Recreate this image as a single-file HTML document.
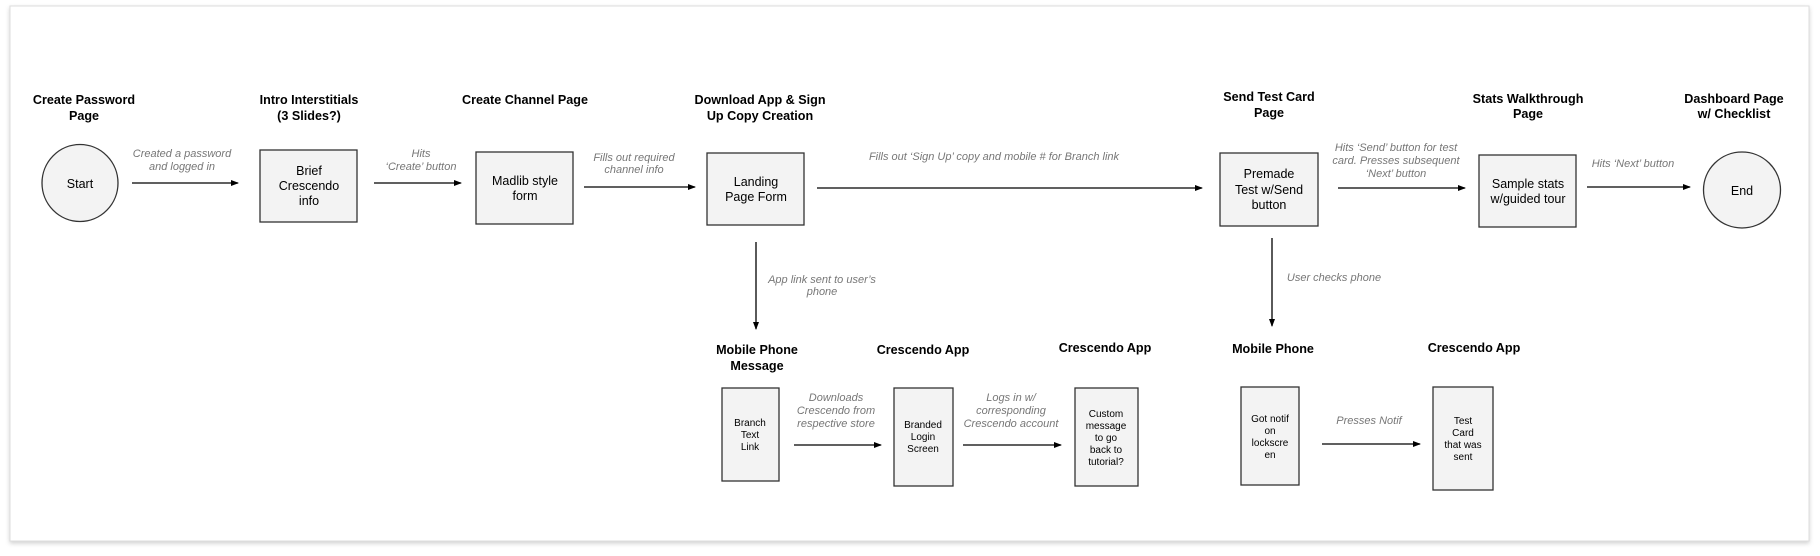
<!DOCTYPE html>
<html><head><meta charset="utf-8"><style>
html,body{margin:0;padding:0;background:#fff;width:1820px;height:556px;overflow:hidden}
svg{display:block}
.t{font:bold 12.6px "Liberation Sans",sans-serif;fill:#000;text-anchor:middle}
.b{font:12.5px "Liberation Sans",sans-serif;fill:#000;text-anchor:middle}
.s{font:10px "Liberation Sans",sans-serif;fill:#000;text-anchor:middle}
.l{font:italic 11px "Liberation Sans",sans-serif;fill:#777;text-anchor:middle}
.bx{fill:#f3f3f3;stroke:#333;stroke-width:1.3}
.ar{stroke:#000;stroke-width:1.3;fill:none;marker-end:url(#a)}
</style></head><body>
<svg width="1820" height="556" viewBox="0 0 1820 556">
<defs>
<marker id="a" markerWidth="8" markerHeight="6" refX="7" refY="3" orient="auto" markerUnits="userSpaceOnUse"><path d="M0,0 L8,3 L0,6 z" fill="#000"/></marker>
<filter id="sh" x="-2%" y="-5%" width="104%" height="110%"><feDropShadow dx="0" dy="2" stdDeviation="2" flood-color="#000" flood-opacity="0.18"/></filter>
</defs>
<rect x="10" y="6" width="1799" height="535" fill="#fff" stroke="#ddd" stroke-width="1" filter="url(#sh)"/>

<text class="t" x="84" y="104">Create Password</text><text class="t" x="84" y="120">Page</text>
<text class="t" x="309" y="104">Intro Interstitials</text><text class="t" x="309" y="120">(3 Slides?)</text>
<text class="t" x="525" y="104">Create Channel Page</text>
<text class="t" x="760" y="104">Download App &amp; Sign</text><text class="t" x="760" y="120">Up Copy Creation</text>
<text class="t" x="1269" y="101">Send Test Card</text><text class="t" x="1269" y="117">Page</text>
<text class="t" x="1528" y="103">Stats Walkthrough</text><text class="t" x="1528" y="118">Page</text>
<text class="t" x="1734" y="103">Dashboard Page</text><text class="t" x="1734" y="118">w/ Checklist</text>

<ellipse cx="80" cy="183" rx="38" ry="38.5" class="bx"/><text class="b" x="80" y="188">Start</text>
<rect x="260" y="150" width="97" height="72" class="bx"/>
<text class="b" x="309" y="175">Brief</text><text class="b" x="309" y="190">Crescendo</text><text class="b" x="309" y="205">info</text>
<rect x="476" y="152" width="97" height="72" class="bx"/>
<text class="b" x="525" y="185">Madlib style</text><text class="b" x="525" y="200">form</text>
<rect x="707" y="153" width="97" height="72" class="bx"/>
<text class="b" x="756" y="186">Landing</text><text class="b" x="756" y="201">Page Form</text>
<rect x="1220" y="153" width="98" height="73" class="bx"/>
<text class="b" x="1269" y="178">Premade</text><text class="b" x="1269" y="194">Test w/Send</text><text class="b" x="1269" y="209">button</text>
<rect x="1479" y="155" width="97" height="72" class="bx"/>
<text class="b" x="1528" y="188">Sample stats</text><text class="b" x="1528" y="203">w/guided tour</text>
<ellipse cx="1742" cy="190" rx="38.5" ry="38" class="bx"/><text class="b" x="1742" y="195">End</text>

<line x1="132" y1="183" x2="238" y2="183" class="ar"/>
<text class="l" x="182" y="157">Created a password</text><text class="l" x="182" y="170">and logged in</text>
<line x1="374" y1="183" x2="461" y2="183" class="ar"/>
<text class="l" x="421" y="157">Hits</text><text class="l" x="421" y="170">‘Create’ button</text>
<line x1="584" y1="187" x2="695" y2="187" class="ar"/>
<text class="l" x="634" y="161">Fills out required</text><text class="l" x="634" y="173">channel info</text>
<line x1="817" y1="188" x2="1202" y2="188" class="ar"/>
<text class="l" x="994" y="160">Fills out ‘Sign Up’ copy and mobile # for Branch link</text>
<line x1="1338" y1="188" x2="1465" y2="188" class="ar"/>
<text class="l" x="1396" y="151">Hits ‘Send’ button for test</text><text class="l" x="1396" y="164">card. Presses subsequent</text><text class="l" x="1396" y="177">‘Next’ button</text>
<line x1="1587" y1="187" x2="1690" y2="187" class="ar"/>
<text class="l" x="1633" y="167">Hits ‘Next’ button</text>

<line x1="756" y1="242" x2="756" y2="329" class="ar"/>
<text class="l" x="822" y="283">App link sent to user’s</text><text class="l" x="822" y="295">phone</text>
<line x1="1272" y1="238" x2="1272" y2="326" class="ar"/>
<text class="l" x="1334" y="281">User checks phone</text>

<text class="t" x="757" y="354">Mobile Phone</text><text class="t" x="757" y="370">Message</text>
<text class="t" x="923" y="354">Crescendo App</text>
<text class="t" x="1105" y="352">Crescendo App</text>
<text class="t" x="1273" y="353">Mobile Phone</text>
<text class="t" x="1474" y="352">Crescendo App</text>

<rect x="722" y="388" width="57" height="93" class="bx"/>
<text class="s" x="750" y="426">Branch</text><text class="s" x="750" y="438">Text</text><text class="s" x="750" y="450">Link</text>
<rect x="894" y="388" width="59" height="98" class="bx"/>
<text class="s" x="923" y="428">Branded</text><text class="s" x="923" y="440">Login</text><text class="s" x="923" y="452">Screen</text>
<rect x="1075" y="388" width="63" height="98" class="bx"/>
<text class="s" x="1106" y="417">Custom</text><text class="s" x="1106" y="429">message</text><text class="s" x="1106" y="441">to go</text><text class="s" x="1106" y="453">back to</text><text class="s" x="1106" y="465">tutorial?</text>
<rect x="1241" y="387" width="58" height="98" class="bx"/>
<text class="s" x="1270" y="422">Got notif</text><text class="s" x="1270" y="434">on</text><text class="s" x="1270" y="446">lockscre</text><text class="s" x="1270" y="458">en</text>
<rect x="1433" y="387" width="60" height="103" class="bx"/>
<text class="s" x="1463" y="424">Test</text><text class="s" x="1463" y="436">Card</text><text class="s" x="1463" y="448">that was</text><text class="s" x="1463" y="460">sent</text>

<line x1="794" y1="445" x2="881" y2="445" class="ar"/>
<text class="l" x="836" y="401">Downloads</text><text class="l" x="836" y="414">Crescendo from</text><text class="l" x="836" y="427">respective store</text>
<line x1="963" y1="445" x2="1061" y2="445" class="ar"/>
<text class="l" x="1011" y="401">Logs in w/</text><text class="l" x="1011" y="414">corresponding</text><text class="l" x="1011" y="427">Crescendo account</text>
<line x1="1322" y1="444" x2="1420" y2="444" class="ar"/>
<text class="l" x="1369" y="424">Presses Notif</text>
</svg>
</body></html>
